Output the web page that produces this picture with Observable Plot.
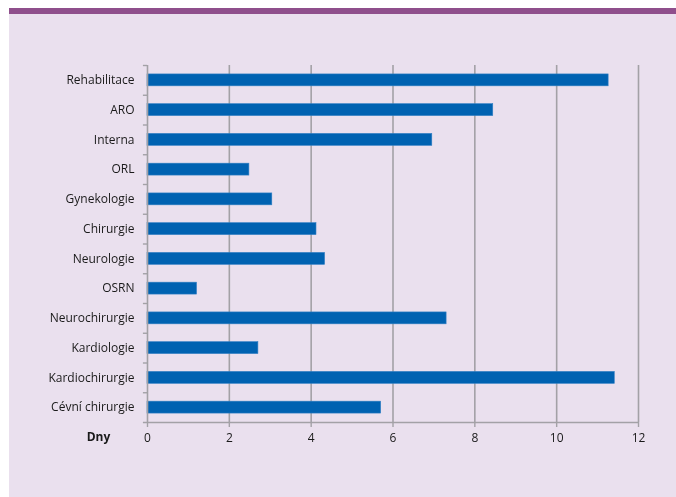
<!DOCTYPE html>
<html>
<head>
<meta charset="utf-8">
<script src="https://cdn.jsdelivr.net/npm/d3@7"></script>
<script src="https://cdn.jsdelivr.net/npm/@observablehq/plot@0.6"></script>
<style>
  html, body { margin: 0; padding: 0; background: #EAE0EE; overflow: hidden; }
  #wrap { position: fixed; left: 0; top: 0; width: 676px; height: 497px; }
  #whiteTop { position: fixed; left: 0; top: 0; right: 0; height: 8px; background: #ffffff; }
  #whiteLeft { position: fixed; left: 0; top: 0; bottom: 0; width: 9px; background: #ffffff; }
  #stripe { position: fixed; left: 9px; top: 8px; right: 0; height: 6px; background: #8F4F8C; }
  #chart { position: absolute; left: 0; top: 0; width: 676px; height: 497px; }
  #chart svg { display: block; }
</style>
</head>
<body>
<div id="whiteTop"></div>
<div id="whiteLeft"></div>
<div id="stripe"></div>
<div id="wrap">
  <div id="chart"></div>
</div>
<script>
const categories = ["Rehabilitace", "ARO", "Interna", "ORL", "Gynekologie", "Chirurgie", "Neurologie", "OSRN", "Neurochirurgie", "Kardiologie", "Kardiochirurgie", "Cévní chirurgie"];
const values = [11.27, 8.45, 6.96, 2.49, 3.05, 4.13, 4.34, 1.21, 7.31, 2.71, 11.42, 5.71];
const xTicks = [0, 2, 4, 6, 8, 10, 12];
const axisLabel = "Dny";

const data = categories.map((c, i) => ({category: c, value: values[i]}));

const W = 676, H = 497;
const mT = 65, mB = 75, mL = 147, mR = 38;
const step = (H - mT - mB) / categories.length;
const grey = "#A3A1A6";

const chart = Plot.plot({
  width: W,
  height: H,
  marginTop: mT,
  marginBottom: mB,
  marginLeft: mL,
  marginRight: mR,
  style: {background: "transparent", fontFamily: "'Open Sans', sans-serif", fontSize: "12px", color: "#1a1a1a", maxWidth: "none"},
  x: {domain: [0, 12], ticks: xTicks, label: null},
  y: {domain: categories, paddingInner: 0.6, paddingOuter: 0.3, round: false, label: null},
  marks: [
    Plot.ruleX(xTicks.filter(d => d > 0), {stroke: grey, strokeWidth: 1.6}),
    Plot.barX(data, {y: "category", x: "value", fill: "#0062B1", stroke: "#2F7FC3", strokeWidth: 0.6}),
    Plot.ruleX([0], {stroke: grey, strokeWidth: 1.6}),
    Plot.ruleY(categories, {y: d => d, x1: -0.1, x2: 0, dy: -step / 2, stroke: grey, strokeWidth: 1.4}),
    Plot.ruleY(categories.slice(-1), {y: d => d, x1: -0.1, x2: 12, dy: step / 2, stroke: grey, strokeWidth: 1.6}),
    Plot.axisX({ticks: xTicks, tickSize: 5, tickPadding: 6, stroke: grey, strokeWidth: 1.4, label: null, fontSize: 12, fill: "#1a1a1a"}),
    Plot.axisY({tickSize: 0, tickPadding: 13, label: null, fontSize: 12, fill: "#1a1a1a"}),
    Plot.text([axisLabel], {frameAnchor: "bottom-left", textAnchor: "middle", lineAnchor: "middle", dx: -49, dy: 15, text: d => d, fontWeight: "bold", fontSize: 12, fill: "#1a1a1a"})
  ]
});
document.getElementById("chart").appendChild(chart);
</script>
</body>
</html>
